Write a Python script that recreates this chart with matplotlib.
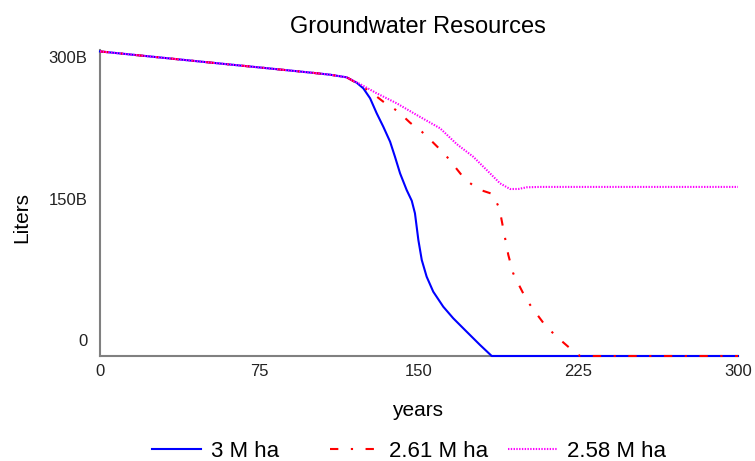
import matplotlib
matplotlib.use("Agg")
import matplotlib.pyplot as plt
import matplotlib.transforms as mtransforms

plt.rcParams['font.family'] = ['Liberation Sans', 'DejaVu Sans']
plt.rcParams['lines.scale_dashes'] = False

# ---- data (years, billions of liters) ----
years_3m = [0, 25, 50, 75, 100, 108.2, 116, 120.7, 123.8, 127, 130.1, 133.2, 136.4, 138.7,
            141.1, 144.2, 146.6, 148.1, 149.7, 151.3, 153.6, 156.7, 161.4, 166.1, 172.4,
            178.7, 184.2, 300]
vals_3m = [323, 317.3, 311.6, 306, 300.3, 298.3, 295.5, 289.8, 283.9, 273.3, 257.4, 243.2,
           227.3, 211.3, 193.7, 176, 164.6, 151.3, 123, 101.8, 84.1, 68.2, 52.3, 40, 25.8,
           11.7, 0, 0]

years_261 = [0, 25, 50, 75, 100, 108.2, 116, 122.3, 127.8, 133.2, 140.3, 145.8, 151.3,
             156.7, 162.2, 166.9, 171.6, 177.9, 184.6, 187.8, 189.2, 190.8, 192, 194.3,
             197, 200.6, 204.9, 209.2, 214.7, 221, 225.7, 300]
vals_261 = [323, 317.3, 311.6, 306, 300.3, 298.3, 295.5, 287.4, 279.2, 269.7, 259.1, 247.4,
            237.9, 226.2, 213.9, 200.7, 187.4, 176.8, 171.8, 156.6, 140, 121.2, 107.1, 87.7,
            75.3, 59.4, 45.9, 32.9, 20.5, 8.2, 0, 0]

years_258 = [0, 25, 50, 75, 100, 108.2, 116, 122.3, 130.1, 139.5, 148.9, 159.9, 167.7,
             175.5, 183.4, 188.1, 192.8, 196.7, 200.6, 206.9, 300]
vals_258 = [323, 317.3, 311.6, 306, 300.3, 298.3, 295.5, 288.4, 278.6, 268, 255.6, 241.5,
            224.8, 211.3, 193.7, 183.1, 177.1, 177.1, 178.9, 179.3, 179.3]

labels = ["3 M ha", "2.61 M ha", "2.58 M ha"]
xticks = [0, 75, 150, 225, 300]
yticks = [0, 150, 300]
yticklabels = ["0", "150B", "300B"]

fig = plt.figure(figsize=(7.55, 4.61), dpi=100)
ax = fig.add_axes([100/755, 1-356/461, 638/755, 306/461])

l1, = ax.plot(years_3m, vals_3m, color='#0000FF', lw=1.5, clip_on=False, zorder=3)
l2, = ax.plot(years_261, vals_261, color='#FF0000', lw=1.5, dashes=(6, 9, 1.6, 9),
              clip_on=False, zorder=4)
l3, = ax.plot(years_258, vals_258, color='#FF00FF', lw=1.5, dashes=(1.0, 1.0),
              clip_on=False, zorder=5)

ax.set_xlim(0, 300)
ax.set_ylim(0, 324.5)
for s in ['top', 'right']:
    ax.spines[s].set_visible(False)
for s in ['left', 'bottom']:
    ax.spines[s].set_color('#808080')
    ax.spines[s].set_linewidth(1.5)

ax.set_xticks(xticks)
ax.set_xticklabels([str(t) for t in xticks])
ax.set_yticks(yticks)
ax.set_yticklabels(yticklabels)
ax.tick_params(axis='both', length=0, labelsize=12, colors='#222222')
ax.tick_params(axis='x', pad=6)
ax.tick_params(axis='y', pad=9)

# y tick labels sit above their tick positions
offset = mtransforms.ScaledTranslation(0, 16/100, fig.dpi_scale_trans)
for lab in ax.get_yticklabels():
    lab.set_transform(lab.get_transform() + offset)

ax.set_xlabel("years", fontsize=15)
ax.xaxis.set_label_coords(0.498, -0.148)
ax.set_ylabel("Liters", fontsize=15)
ax.yaxis.set_label_coords(-0.108, 0.453)

ax.text(0.499, 1.0556, "Groundwater Resources", transform=ax.transAxes,
        ha='center', va='baseline', fontsize=17)

# legend: three fixed-width slots
for line, lab, xpx in zip([l1, l2, l3], labels, [152, 330, 508]):
    leg = fig.legend([line], [lab], loc='center left',
                     bbox_to_anchor=(xpx/755, 1-451/461), frameon=False,
                     fontsize=16, handlelength=2.2, handletextpad=0.45,
                     borderpad=0, borderaxespad=0)

fig.savefig("out.png", dpi=100)
